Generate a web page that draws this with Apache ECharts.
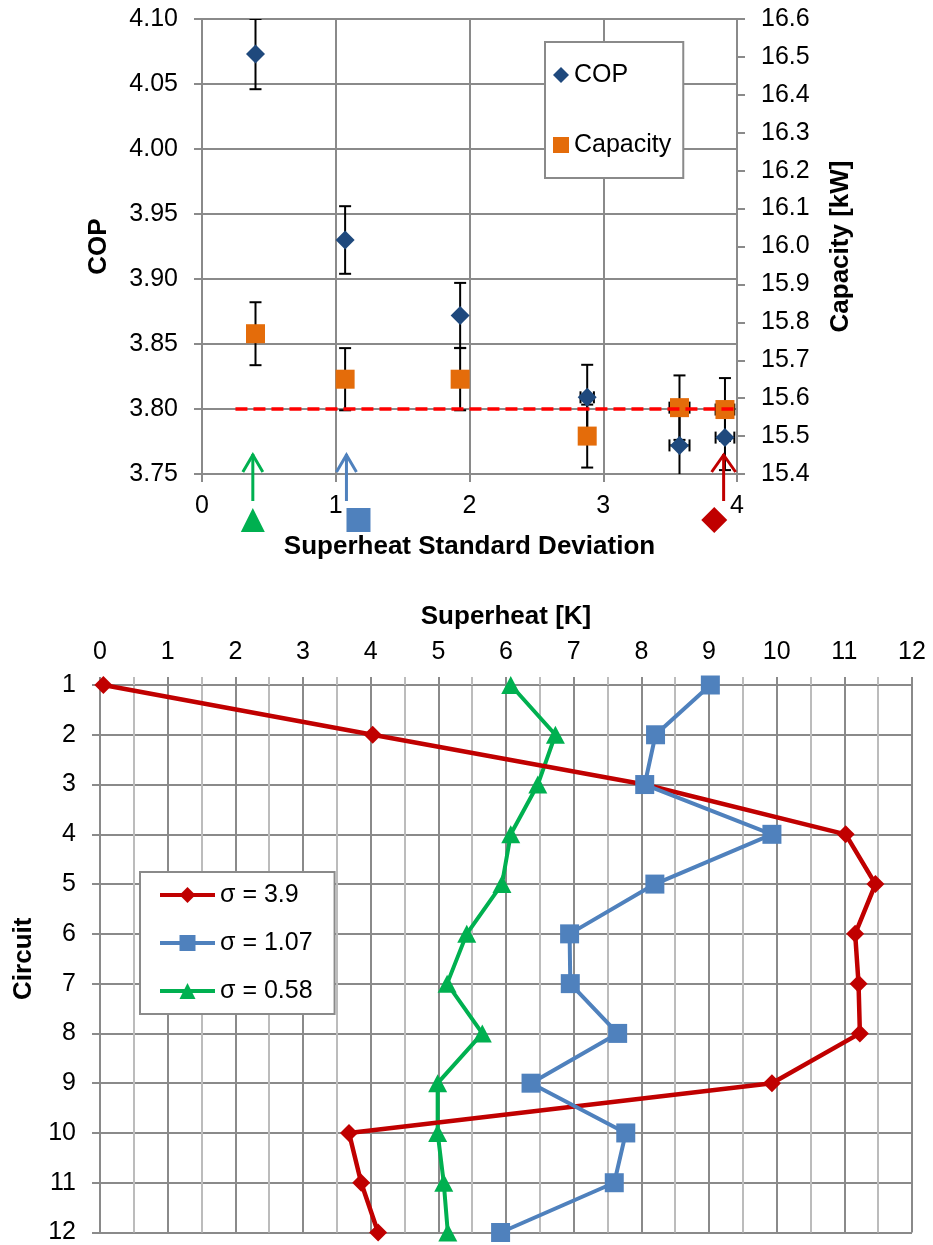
<!DOCTYPE html>
<html>
<head>
<meta charset="utf-8">
<style>
  html, body { margin: 0; padding: 0; background: #fff; }
  #chart { width: 933px; height: 1245px; }
</style>
<script src="https://cdn.jsdelivr.net/npm/echarts@6/dist/echarts.min.js"></script>
</head>
<body>
<div id="chart"></div>
<script>
// ---- top panel: COP / capacity vs superheat standard deviation ----
const sigmaX   = [0.40, 1.07, 1.93, 2.88, 3.57, 3.91];
const sigmaErr = [0, 0, 0, 0.05, 0.075, 0.07];
const cop      = [4.073, 3.930, 3.872, 3.809, 3.772, 3.778];
const copErr   = [0.027, 0.026, 0.025, 0.025, 0.025, 0.025];
const capacity = [15.77, 15.65, 15.65, 15.50, 15.575, 15.57];
const capErr   = [0.083, 0.082, 0.082, 0.083, 0.085, 0.083];
const baselineCop  = 3.80;
const baselineFrom = 0.25;
const sigmaRange = [0, 4, 1];          // min, max, step
const copRange   = [3.75, 4.10, 0.05];
const capRange   = [15.4, 16.6, 0.1];

// arrows under the axis pointing at the three cases of the bottom panel
const caseArrowX = [0.38, 1.08, 3.90];
const caseBadgeX = [0.38, 1.17, 3.83];

// ---- bottom panel: superheat per circuit ----
const circuits = [1, 2, 3, 4, 5, 6, 7, 8, 9, 10, 11, 12];
const sh39  = [0.05, 4.03, 8.05, 11.02, 11.46, 11.16, 11.21, 11.23, 9.93, 3.68, 3.86, 4.11];
const sh107 = [9.02, 8.21, 8.05, 9.93, 8.20, 6.94, 6.95, 7.65, 6.37, 7.77, 7.60, 5.92];
const sh058 = [6.07, 6.73, 6.47, 6.07, 5.94, 5.42, 5.13, 5.65, 4.99, 4.99, 5.08, 5.14];
const superheatRange = [0, 12, 1];

const RED = "#c00000", BLUE = "#4f81bd", GREEN = "#00b050";
const caseColors = [GREEN, BLUE, RED];
const FONT = "Liberation Sans, Arial, sans-serif";
const GRID_C = "#8a8a8a";

const chart = echarts.init(document.getElementById("chart"), null, { renderer: "canvas" });

function errorBars(params, api) {
  const x = api.value(0), y = api.value(1), ex = api.value(2), ey = api.value(3);
  const top = api.coord([x, y + ey]);
  const bot = api.coord([x, y - ey]);
  const cap = 6;
  const style = { stroke: "#000", lineWidth: 2 };
  const kids = [
    { type: "line", shape: { x1: top[0], y1: top[1], x2: bot[0], y2: bot[1] }, style },
    { type: "line", shape: { x1: top[0] - cap, y1: top[1], x2: top[0] + cap, y2: top[1] }, style },
    { type: "line", shape: { x1: bot[0] - cap, y1: bot[1], x2: bot[0] + cap, y2: bot[1] }, style },
  ];
  if (ex > 0) {
    const l = api.coord([x - ex, y]), r = api.coord([x + ex, y]);
    kids.push(
      { type: "line", shape: { x1: l[0], y1: l[1], x2: r[0], y2: r[1] }, style },
      { type: "line", shape: { x1: l[0], y1: l[1] - cap, x2: l[0], y2: l[1] + cap }, style },
      { type: "line", shape: { x1: r[0], y1: r[1] - cap, x2: r[0], y2: r[1] + cap }, style }
    );
  }
  return { type: "group", children: kids };
}

function caseMarker(params, api) {
  const i = params.dataIndex;
  const color = caseColors[i];
  const base = api.coord([api.value(0), copRange[0]]);
  const ax = base[0], ty = base[1] - 20;
  const bx = api.coord([api.value(1), copRange[0]])[0], by = base[1] + 46;
  const stroke = { stroke: color, lineWidth: 3, fill: null };
  const h = 12;
  let badge;
  if (i === 0) {
    badge = { type: "polygon", shape: { points: [[bx, by - h], [bx - h, by + h], [bx + h, by + h]] }, style: { fill: color } };
  } else if (i === 1) {
    badge = { type: "rect", shape: { x: bx - h, y: by - h, width: 2 * h, height: 2 * h }, style: { fill: color } };
  } else {
    badge = { type: "polygon", shape: { points: [[bx, by - h - 1], [bx + h + 1, by], [bx, by + h + 1], [bx - h - 1, by]] }, style: { fill: color } };
  }
  const hw = i === 2 ? 12 : 10;
  return {
    type: "group",
    children: [
      { type: "line", shape: { x1: ax, y1: ty, x2: ax, y2: ty + 47 }, style: stroke },
      { type: "polyline", shape: { points: [[ax - hw, ty + 18], [ax, ty + 1], [ax + hw, ty + 18]] }, style: stroke },
      badge,
    ],
  };
}

const tickLabel = { color: "#000", fontSize: 25, fontFamily: FONT };
const nameStyle = { color: "#000", fontSize: 26, fontWeight: "bold", fontFamily: FONT };
const lineAxis = { show: true, lineStyle: { color: GRID_C, width: 2 } };
const tick = { show: true, length: 8, lineStyle: { color: GRID_C, width: 2 } };
const split = { show: true, lineStyle: { color: GRID_C, width: 2 } };

chart.setOption({
  animation: false,
  backgroundColor: "#fff",
  grid: [
    { left: 202, top: 19, width: 535, height: 455 },
    { left: 100, top: 685, width: 812, height: 548 },
  ],
  legend: [
    {
      data: ["COP", "Capacity"],
      orient: "vertical", left: 545, top: 42,
      padding: [19, 12, 19, 8], itemGap: 42,
      itemWidth: 16, itemHeight: 16,
      backgroundColor: "#fff", borderColor: GRID_C, borderWidth: 2,
      textStyle: { color: "#000", fontSize: 25, lineHeight: 28, fontFamily: FONT },
    },
    {
      data: ["σ = 3.9", "σ = 1.07", "σ = 0.58"],
      orient: "vertical", left: 140, top: 872,
      padding: [8, 22, 8, 18], itemGap: 18,
      itemWidth: 55, itemHeight: 20,
      lineStyle: { width: 4 },
      backgroundColor: "#fff", borderColor: GRID_C, borderWidth: 2,
      textStyle: { color: "#000", fontSize: 25, lineHeight: 30, fontFamily: FONT },
    },
  ],
  xAxis: [
    {
      gridIndex: 0, type: "value",
      min: sigmaRange[0], max: sigmaRange[1], interval: sigmaRange[2],
      name: "Superheat Standard Deviation", nameLocation: "middle", nameGap: 60, nameTextStyle: nameStyle,
      axisLine: lineAxis, axisTick: tick, splitLine: split,
      axisLabel: Object.assign({ margin: 20 }, tickLabel),
    },
    {
      gridIndex: 1, type: "value", position: "top",
      min: superheatRange[0], max: superheatRange[1], interval: superheatRange[2],
      name: "Superheat [K]", nameLocation: "middle", nameGap: 55, nameTextStyle: nameStyle,
      axisLine: lineAxis, axisTick: tick,
      minorTick: { show: true, splitNumber: 2, length: 8, lineStyle: { color: "#bcbcbc", width: 2 } },
      splitLine: split,
      minorSplitLine: { show: true, lineStyle: { color: "#bcbcbc", width: 2 } },
      axisLabel: Object.assign({ margin: 20 }, tickLabel),
    },
  ],
  yAxis: [
    {
      gridIndex: 0, type: "value",
      min: copRange[0], max: copRange[1], interval: copRange[2],
      name: "COP", nameLocation: "middle", nameGap: 90, nameTextStyle: nameStyle,
      axisLine: lineAxis, axisTick: tick, splitLine: split,
      axisLabel: Object.assign({ margin: 24, formatter: v => v.toFixed(2) }, tickLabel),
    },
    {
      gridIndex: 0, type: "value", position: "right",
      min: capRange[0], max: capRange[1], interval: capRange[2],
      name: "Capacity [kW]", nameLocation: "middle", nameGap: 91, nameRotate: 90, nameTextStyle: nameStyle,
      axisLine: lineAxis, axisTick: tick, splitLine: { show: false },
      axisLabel: Object.assign({ margin: 24, formatter: v => v.toFixed(1) }, tickLabel),
    },
    {
      gridIndex: 1, type: "value", inverse: true,
      min: circuits[0], max: circuits[circuits.length - 1], interval: 1,
      name: "Circuit", nameLocation: "middle", nameGap: 62, nameTextStyle: nameStyle,
      axisLine: lineAxis, axisTick: tick, splitLine: split,
      axisLabel: Object.assign({ margin: 24 }, tickLabel),
    },
  ],
  series: [
    {
      type: "custom", name: "copErr", xAxisIndex: 0, yAxisIndex: 0, z: 2, clip: true,
      renderItem: errorBars,
      data: sigmaX.map((x, i) => [x, cop[i], sigmaErr[i], copErr[i]]),
    },
    {
      type: "custom", name: "capErr", xAxisIndex: 0, yAxisIndex: 1, z: 2, clip: true,
      renderItem: errorBars,
      data: sigmaX.map((x, i) => [x, capacity[i], sigmaErr[i], capErr[i]]),
    },
    {
      type: "scatter", name: "Capacity", xAxisIndex: 0, yAxisIndex: 1, z: 3,
      symbol: "rect", symbolSize: 19,
      itemStyle: { color: "#e46c0a", opacity: 1 },
      data: sigmaX.map((x, i) => [x, capacity[i]]),
    },
    {
      type: "scatter", name: "COP", xAxisIndex: 0, yAxisIndex: 0, z: 3,
      symbol: "diamond", symbolSize: 19,
      itemStyle: { color: "#1f497d", opacity: 1 },
      data: sigmaX.map((x, i) => [x, cop[i]]),
    },
    {
      type: "line", name: "baseline", xAxisIndex: 0, yAxisIndex: 0, z: 4,
      symbol: "none", silent: true,
      lineStyle: { color: "#ff0000", width: 3.5, type: [12, 6] },
      data: [[baselineFrom, baselineCop], [sigmaRange[1], baselineCop]],
    },
    {
      type: "custom", name: "cases", xAxisIndex: 0, yAxisIndex: 0, z: 5, clip: false,
      renderItem: caseMarker,
      data: caseArrowX.map((x, i) => [x, caseBadgeX[i]]),
    },
    {
      type: "line", name: "σ = 0.58", xAxisIndex: 1, yAxisIndex: 2, z: 3,
      symbol: "triangle", symbolSize: [19, 18],
      color: GREEN, lineStyle: { color: GREEN, width: 4 }, itemStyle: { color: GREEN },
      data: circuits.map((c, i) => [sh058[i], c]),
    },
    {
      type: "line", name: "σ = 3.9", xAxisIndex: 1, yAxisIndex: 2, z: 3,
      symbol: "diamond", symbolSize: 18,
      color: RED, lineStyle: { color: RED, width: 4.5 }, itemStyle: { color: RED },
      data: circuits.map((c, i) => [sh39[i], c]),
    },
    {
      type: "line", name: "σ = 1.07", xAxisIndex: 1, yAxisIndex: 2, z: 3,
      symbol: "rect", symbolSize: 19,
      color: BLUE, lineStyle: { color: BLUE, width: 4 }, itemStyle: { color: BLUE },
      data: circuits.map((c, i) => [sh107[i], c]),
    },
  ],
});
</script>
</body>
</html>
